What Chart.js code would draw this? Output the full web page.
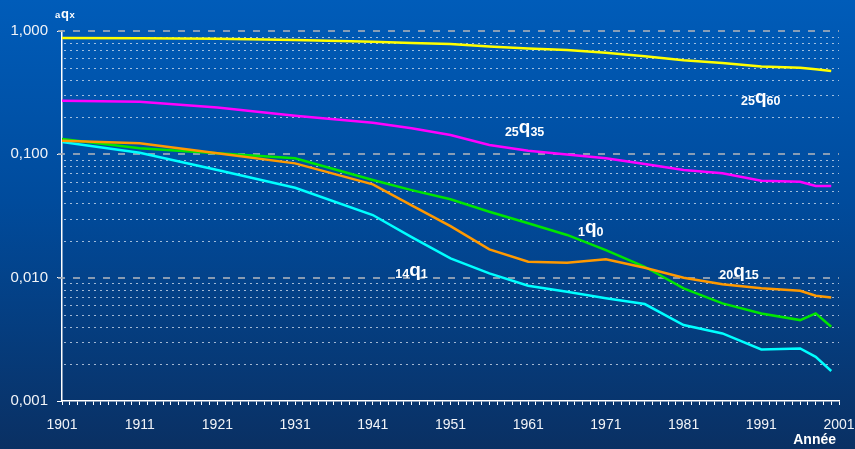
<!DOCTYPE html>
<html>
<head>
<meta charset="utf-8">
<script src="https://cdn.jsdelivr.net/npm/chart.js@4"></script>
<style>
  html, body { margin: 0; padding: 0; background: #003f86; }
  #wrap { width: 855px; height: 449px; }
  canvas { display: block; }
</style>
</head>
<body>
<div id="wrap"><canvas id="c" width="855" height="449"></canvas></div>
<script>
// ---- data ----
const years = [1901, 1911, 1921, 1931, 1941, 1946, 1951, 1956, 1961, 1966, 1971, 1976, 1981, 1986, 1991, 1996, 1998, 2000];
const q25_60 = [0.877, 0.872, 0.866, 0.845, 0.820, 0.800, 0.785, 0.750, 0.720, 0.700, 0.665, 0.625, 0.580, 0.550, 0.515, 0.503, 0.490, 0.474];
const q25_35 = [0.272, 0.267, 0.240, 0.2056, 0.180, 0.163, 0.1434, 0.119, 0.107, 0.0996, 0.0928, 0.0834, 0.0746, 0.0701, 0.0611, 0.0600, 0.0553, 0.0553];
const q1_0   = [0.133, 0.112, 0.102, 0.0928, 0.0619, 0.0513, 0.0432, 0.0342, 0.0276, 0.0222, 0.0167, 0.01226, 0.00819, 0.00619, 0.00513, 0.00453, 0.00513, 0.00400];
const q20_15 = [0.129, 0.1228, 0.102, 0.0845, 0.0571, 0.0386, 0.0262, 0.01697, 0.01345, 0.0132, 0.01407, 0.01203, 0.00998, 0.00883, 0.00819, 0.00783, 0.00713, 0.00692];
const q14_1  = [0.126, 0.103, 0.0746, 0.0536, 0.0322, 0.0213, 0.01434, 0.01083, 0.0086, 0.00769, 0.0068, 0.00611, 0.00413, 0.00353, 0.00262, 0.00267, 0.00228, 0.00175];

const yTickValues = [0.001, 0.01, 0.1, 1];
const yTickLabels = ['0,001', '0,010', '0,100', '1,000'];
const xMin = 1901, xMax = 2001;

// series labels: [prefix subscript, main letter, suffix subscript, anchor year, anchor value]
const seriesLabels = [
  ['25', 'q', '60', 1988.4, 0.262],
  ['25', 'q', '35', 1958.0, 0.148],
  ['1',  'q', '0',  1967.4, 0.0229],
  ['20', 'q', '15', 1985.6, 0.0102],
  ['14', 'q', '1',  1943.9, 0.0104]
];

const FONT = "'Liberation Sans', Arial, sans-serif";

function pts(vals) { return years.map((yr, i) => ({ x: yr, y: vals[i] })); }

const bgPlugin = {
  id: 'bg',
  beforeDraw(chart) {
    const ctx = chart.ctx;
    const g = ctx.createLinearGradient(0, 0, 0, chart.height);
    g.addColorStop(0, '#005cb9');
    g.addColorStop(0.45, '#004b9c');
    g.addColorStop(1, '#0a3063');
    ctx.save();
    ctx.fillStyle = g;
    ctx.fillRect(0, 0, chart.width, chart.height);
    ctx.restore();
  }
};

const gridPlugin = {
  id: 'customGrid',
  beforeDatasetsDraw(chart) {
    const ctx = chart.ctx;
    const y = chart.scales.y;
    const a = chart.chartArea;
    ctx.save();
    // minor dotted lines
    ctx.strokeStyle = 'rgba(215,225,240,0.75)';
    ctx.lineWidth = 1.2;
    ctx.setLineDash([2, 4]);
    for (let d = -3; d < 0; d++) {
      for (let m = 2; m <= 9; m++) {
        const v = m * Math.pow(10, d);
        const py = Math.round(y.getPixelForValue(v)) + 0.5;
        ctx.beginPath();
        ctx.moveTo(a.left + 2, py);
        ctx.lineTo(a.right, py);
        ctx.stroke();
      }
    }
    // decade dashed lines
    ctx.strokeStyle = 'rgba(160,170,185,0.85)';
    ctx.lineWidth = 2;
    ctx.setLineDash([7, 8]);
    for (const v of [0.01, 0.1, 1]) {
      const py = Math.round(y.getPixelForValue(v));
      ctx.beginPath();
      ctx.moveTo(a.left - 4, py);
      ctx.lineTo(a.right, py);
      ctx.stroke();
    }
    ctx.restore();
  }
};

const labelPlugin = {
  id: 'seriesLabels',
  afterDatasetsDraw(chart) {
    const ctx = chart.ctx;
    const xs = chart.scales.x, ys = chart.scales.y;
    ctx.save();
    ctx.fillStyle = '#ffffff';
    ctx.textBaseline = 'alphabetic';
    ctx.textAlign = 'left';
    for (const [pre, main, post, yr, val] of seriesLabels) {
      let px = xs.getPixelForValue(yr);
      const py = ys.getPixelForValue(val);
      ctx.font = 'bold 12.5px ' + FONT;
      ctx.fillText(pre, px, py + 2.5);
      px += ctx.measureText(pre).width;
      ctx.font = 'bold 19px ' + FONT;
      ctx.fillText(main, px, py);
      px += ctx.measureText(main).width;
      ctx.font = 'bold 12.5px ' + FONT;
      ctx.fillText(post, px, py + 2.5);
    }
    // y axis title  aqx
    let tx = 55;
    ctx.font = 'bold 9.5px ' + FONT;
    ctx.fillText('a', tx, 18.3);
    tx += ctx.measureText('a').width + 0.8;
    ctx.font = 'bold 13px ' + FONT;
    ctx.fillText('q', tx, 17.7);
    tx += ctx.measureText('q').width + 0.6;
    ctx.font = 'bold 9.5px ' + FONT;
    ctx.fillText('x', tx, 18.3);
    // x axis title
    ctx.font = 'bold 14px ' + FONT;
    ctx.textAlign = 'right';
    ctx.fillText('Année', 836, 444);
    ctx.restore();
  }
};

const mk = (label, vals, color) => ({
  label, data: pts(vals), borderColor: color, backgroundColor: color,
  borderWidth: 2.5, pointRadius: 0, tension: 0, fill: false
});

new Chart(document.getElementById('c'), {
  type: 'line',
  data: {
    datasets: [
      mk('25q60', q25_60, '#ffff00'),
      mk('25q35', q25_35, '#ff00ff'),
      mk('20q15', q20_15, '#ff9900'),
      mk('1q0',   q1_0,   '#00e600'),
      mk('14q1',  q14_1,  '#00ffff')
    ]
  },
  options: {
    responsive: false,
    devicePixelRatio: 1,
    animation: false,
    layout: { padding: { top: 31, right: 16, left: 0, bottom: 0 } },
    plugins: { legend: { display: false }, tooltip: { enabled: false } },
    scales: {
      x: {
        type: 'linear',
        min: xMin, max: xMax,
        afterBuildTicks(scale) {
          const t = [];
          for (let v = xMin; v <= xMax; v++) t.push({ value: v });
          scale.ticks = t;
        },
        afterFit(scale) { scale.height = 48; scale.paddingLeft = 0; scale.paddingRight = 0; },
        ticks: {
          autoSkip: false, maxRotation: 0, minRotation: 0,
          color: '#f2f4f8', padding: 12,
          font: { family: FONT, size: 14 },
          callback(v) { return (v - xMin) % 10 === 0 ? String(v) : ''; }
        },
        grid: { drawOnChartArea: false, drawTicks: true, tickLength: 4, tickColor: '#ffffff', tickWidth: 1 },
        border: { display: true, color: '#ffffff', width: 1.5 }
      },
      y: {
        type: 'logarithmic',
        min: 0.001, max: 1,
        afterBuildTicks(scale) { scale.ticks = yTickValues.map(v => ({ value: v })); },
        afterFit(scale) { scale.width = 62; scale.paddingTop = 0; scale.paddingBottom = 0; },
        ticks: {
          color: '#f2f4f8', padding: 9,
          font: { family: FONT, size: 15 },
          callback(v) {
            const i = yTickValues.findIndex(t => Math.abs(t - v) / t < 1e-6);
            return i >= 0 ? yTickLabels[i] : '';
          }
        },
        grid: { drawOnChartArea: false, drawTicks: true, tickLength: 5, tickColor: '#ffffff', tickWidth: 1 },
        border: { display: true, color: '#ffffff', width: 1.5 }
      }
    }
  },
  plugins: [bgPlugin, gridPlugin, labelPlugin]
});
</script>
</body>
</html>
